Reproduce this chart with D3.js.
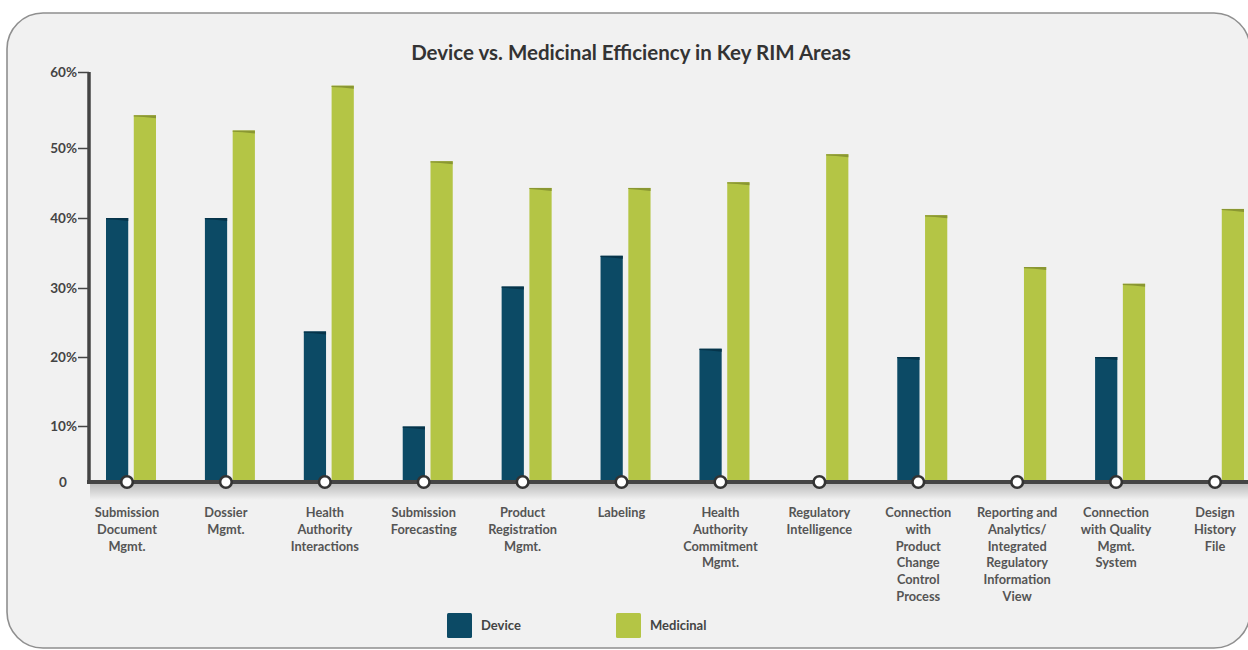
<!DOCTYPE html>
<html>
<head>
<meta charset="utf-8">
<script src="https://cdn.jsdelivr.net/npm/d3@7"></script>
<style>
  html, body { margin: 0; padding: 0; background: #ffffff; }
  svg { display: block; font-family: Lato, "Open Sans", sans-serif; }
</style>
</head>
<body>
<svg id="chart" width="1248" height="650"></svg>
<script>
// Survey areas (label lines separated by "\n")
const categories = [
  "Submission\nDocument\nMgmt.",
  "Dossier\nMgmt.",
  "Health\nAuthority\nInteractions",
  "Submission\nForecasting",
  "Product\nRegistration\nMgmt.",
  "Labeling",
  "Health\nAuthority\nCommitment\nMgmt.",
  "Regulatory\nIntelligence",
  "Connection\nwith\nProduct\nChange\nControl\nProcess",
  "Reporting and\nAnalytics/\nIntegrated\nRegulatory\nInformation\nView",
  "Connection\nwith Quality\nMgmt.\nSystem",
  "Design\nHistory\nFile"
];

// Efficiency, percent (null = no bar)
const device    = [40, 40, 23.7, 9.9, 30.2, 34.6, 21.2, null, 20, null, 20, null];
const medicinal = [54.3, 52.3, 58.2, 48.1, 44.3, 44.3, 45.1, 49.1, 40.4, 33.0, 30.6, 41.3];

const seriesNames = ["Device", "Medicinal"];
const seriesColors = ["#0c4a65", "#b4c545"];
const seriesTopColors = ["#06344a", "#8a9732"];

const tickValues = [0, 10, 20, 30, 40, 50, 60];
const tickLabels = ["0", "10%", "20%", "30%", "40%", "50%", "60%"];

const svg = d3.select("#chart");

// Rounded backdrop panel
svg.append("rect")
  .attr("x", 7).attr("y", 13)
  .attr("width", 1243).attr("height", 635)
  .attr("rx", 36).attr("ry", 36)
  .attr("fill", "#f1f1f1")
  .attr("stroke", "#8f8f8f")
  .attr("stroke-width", 1.6);

// Title
svg.append("text")
  .attr("x", 631).attr("y", 60)
  .attr("text-anchor", "middle")
  .attr("font-size", 20.5)
  .attr("font-weight", 700)
  .attr("fill", "#333")
  .text("Device vs. Medicinal Efficiency in Key RIM Areas");

// Vertical scale: gridline spacing of the printed axis is not uniform,
// so the scale follows the printed tick positions piece by piece.
const y = d3.scaleLinear()
  .domain(tickValues)
  .range([482, 426, 357, 288, 218, 148, 72]);

const names = categories.map(c => c.replace(/\n/g, " "));
const x = d3.scalePoint()
  .domain(names)
  .range([127, 1215]);

const xSub = d3.scaleBand()
  .domain(seriesNames)
  .range([-21, 29])
  .paddingInner(0.2);

const defs = svg.append("defs");
const shadow = defs.append("linearGradient")
  .attr("id", "baseShadow")
  .attr("x1", 0).attr("y1", 0).attr("x2", 0).attr("y2", 1);
shadow.append("stop").attr("offset", "0%").attr("stop-color", "#000").attr("stop-opacity", 0.22);
shadow.append("stop").attr("offset", "100%").attr("stop-color", "#000").attr("stop-opacity", 0);

// Soft shadow under the baseline
svg.append("rect")
  .attr("x", 90).attr("y", 484)
  .attr("width", 1158).attr("height", 16)
  .attr("fill", "url(#baseShadow)");

// Bars
const rows = names.map((n, i) => ({ name: n, values: [device[i], medicinal[i]] }));

const groups = svg.append("g").selectAll("g")
  .data(rows)
  .join("g")
  .attr("transform", d => `translate(${x(d.name)},0)`);

const bars = groups.selectAll("g")
  .data(d => d.values.map((v, k) => ({ series: seriesNames[k], k, v })).filter(e => e.v != null))
  .join("g");

bars.append("rect")
  .attr("x", d => xSub(d.series))
  .attr("y", d => y(d.v))
  .attr("width", xSub.bandwidth())
  .attr("height", d => y(0) - y(d.v))
  .attr("fill", d => seriesColors[d.k]);

// Folded top edge of each bar
bars.append("path")
  .attr("d", d => {
    const x0 = xSub(d.series), x1 = x0 + xSub.bandwidth(), t = y(d.v);
    return `M${x0},${t} L${x1},${t} L${x1},${t + 3} L${x0 + xSub.bandwidth() * 0.45},${t + 1.8} L${x0},${t + 1.2} Z`;
  })
  .attr("fill", d => seriesTopColors[d.k]);

// Y axis
const yAxis = d3.axisLeft(y)
  .tickValues(tickValues.slice(1))
  .tickFormat((d) => tickLabels[tickValues.indexOf(d)])
  .tickSize(11)
  .tickPadding(1);

const yg = svg.append("g")
  .attr("transform", "translate(89,0)")
  .call(yAxis);
yg.select(".domain").remove();
yg.selectAll(".tick line").attr("stroke", "#444").attr("stroke-width", 1.5);
yg.selectAll(".tick text")
  .attr("font-family", "Lato, sans-serif")
  .attr("font-size", 13.5)
  .attr("font-weight", 700)
  .attr("fill", "#444");

svg.append("text")
  .attr("x", 63).attr("y", y(0) + 5)
  .attr("text-anchor", "middle")
  .attr("font-size", 13.5)
  .attr("font-weight", 700)
  .attr("fill", "#444")
  .text(tickLabels[0]);

svg.append("line")
  .attr("x1", 89).attr("x2", 89)
  .attr("y1", y(60)).attr("y2", y(0) + 2)
  .attr("stroke", "#444").attr("stroke-width", 3.5);

svg.append("line")
  .attr("x1", 87).attr("x2", 1248)
  .attr("y1", y(0)).attr("y2", y(0))
  .attr("stroke", "#444").attr("stroke-width", 4);

// Category markers on the baseline
svg.append("g").selectAll("circle")
  .data(names)
  .join("circle")
  .attr("cx", d => x(d))
  .attr("cy", y(0))
  .attr("r", 5.8)
  .attr("fill", "#fff")
  .attr("stroke", "#333")
  .attr("stroke-width", 2.6);

// Category labels
const labels = svg.append("g").selectAll("text")
  .data(categories)
  .join("text")
  .attr("x", (d, i) => x(names[i]))
  .attr("y", 517)
  .attr("text-anchor", "middle")
  .attr("font-size", 12.8)
  .attr("font-weight", 700)
  .attr("fill", "#555");

labels.selectAll("tspan")
  .data(d => d.split("\n"))
  .join("tspan")
  .attr("x", function () { return d3.select(this.parentNode).attr("x"); })
  .attr("dy", (d, i) => i === 0 ? 0 : 16.8)
  .text(d => d);

// Legend
const legendX = [447, 616];
const legend = svg.append("g").selectAll("g")
  .data(seriesNames)
  .join("g")
  .attr("transform", (d, i) => `translate(${legendX[i]},613)`);

legend.append("rect")
  .attr("width", 25).attr("height", 25)
  .attr("rx", 1.5)
  .attr("fill", (d, i) => seriesColors[i]);

legend.append("text")
  .attr("x", 34).attr("y", 17)
  .attr("font-size", 13)
  .attr("font-weight", 700)
  .attr("fill", "#444")
  .text(d => d);
</script>
</body>
</html>
